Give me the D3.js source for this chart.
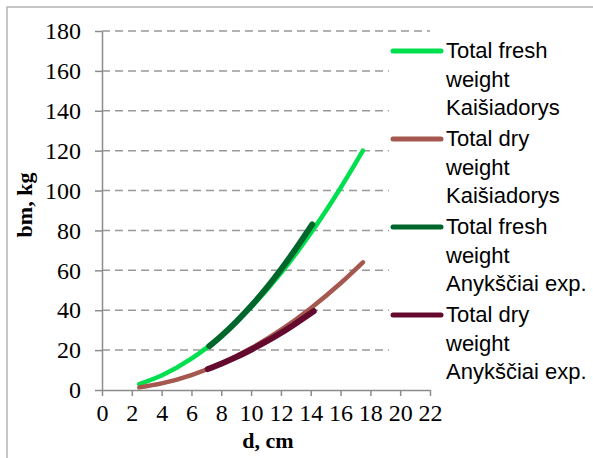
<!DOCTYPE html>
<html>
<head>
<meta charset="UTF-8">
<style>
  body{margin:0;background:#fff}
  svg{display:block}
  .tick text{font-family:'Liberation Serif','Times New Roman',serif;font-size:24px;fill:#000}
  .axis path,.axis line{stroke:#8c8c8c;stroke-width:1.5}
  .title{font-family:'Liberation Serif','Times New Roman',serif;font-size:22px;font-weight:bold}
  .legend text{font-family:'Liberation Sans',Arial,sans-serif;font-size:22px;fill:#000}
</style>
</head>
<body>
<div id="chart"></div>
<script src="https://d3js.org/d3.v7.min.js"></script>
<script>
// data
const xTicks=[0,2,4,6,8,10,12,14,16,18,20,22];
const yTicks=[0,20,40,60,80,100,120,140,160,180];

const freshKaisD=[2.5,4,6,8,10,12,14,16,17.5];
const freshKaisBm=[3,7.3,15.7,27.2,41.5,58.6,78.6,101.3,120];
const dryKaisD=[2.5,4,6,8,10,12,14,16,17.5];
const dryKaisBm=[1.3,3.3,7.5,13.4,20.9,30.1,41,53.5,64];
const freshAnykD=[7.2,8,9,10,11,12,13,14.1];
const freshAnykBm=[22,27.1,34.2,42.1,50.8,60.4,70.8,83];
const dryAnykD=[7.1,8,9,10,11,12,13,14.2];
const dryAnykBm=[10.5,13.2,16.5,20.2,24.2,28.6,33.4,39.5];

const series=[
  {name:["Total fresh","weight","Kaišiadorys"],d:freshKaisD,bm:freshKaisBm,c:"#00e04e",w:4.5},
  {name:["Total dry","weight","Kaišiadorys"],d:dryKaisD,bm:dryKaisBm,c:"#a5584f",w:4.5},
  {name:["Total fresh","weight","Anykščiai exp."],d:freshAnykD,bm:freshAnykBm,c:"#00672c",w:6},
  {name:["Total dry","weight","Anykščiai exp."],d:dryAnykD,bm:dryAnykBm,c:"#640a2e",w:6}
];

const W=593,H=458;
const svg=d3.select("#chart").append("svg").attr("width",W).attr("height",H);

// outer frame (top + left only visible)
svg.append("path").attr("d",`M7,${H} V7 H${W}`).attr("fill","none")
   .attr("stroke","#b4b4b4").attr("stroke-width",1.5);

const x=d3.scaleLinear().domain([0,22]).range([102,430]);
const y=d3.scaleLinear().domain([0,180]).range([390,31]);

/* grid */
svg.append("g").selectAll("line").data(yTicks.filter(v=>v>0)).join("line")
   .attr("x1",x(0)).attr("x2",x(22)).attr("y1",d=>y(d)).attr("y2",d=>y(d))
   .attr("stroke","#999").attr("stroke-width",1.5).attr("stroke-dasharray","8,5");

/* axes */
svg.append("g").attr("class","axis").attr("transform",`translate(${x(0)},0)`)
   .call(d3.axisLeft(y).tickValues(yTicks).tickSize(7).tickSizeOuter(0).tickPadding(14));
svg.append("g").attr("class","axis").attr("transform",`translate(0,${y(0)})`)
   .call(d3.axisBottom(x).tickValues(xTicks).tickSize(6).tickSizeOuter(0).tickPadding(8));

svg.append("text").attr("class","title")
   .attr("transform","translate(32,205) rotate(-90)").attr("text-anchor","middle")
   .text("bm, kg");
svg.append("text").attr("class","title")
   .attr("x",268).attr("y",448).attr("text-anchor","middle").text("d, cm");

/* curves */
const line=d3.line().x(p=>x(p[0])).y(p=>y(p[1])).curve(d3.curveMonotoneX);
svg.append("g").selectAll("path").data(series).join("path")
   .attr("d",s=>line(s.d.map((v,i)=>[v,s.bm[i]])))
   .attr("fill","none").attr("stroke",s=>s.c).attr("stroke-width",s=>s.w)
   .attr("stroke-linecap","round");

/* legend */
const legend=svg.append("g").attr("class","legend");
legend.append("rect").attr("x",389).attr("y",38).attr("width",W-389).attr("height",345).attr("fill","#fff");
const item=legend.selectAll("g.item").data(series).join("g").attr("class","item")
   .attr("transform",(d,i)=>`translate(0,${51+i*88})`);
item.append("line").attr("x1",393).attr("x2",441).attr("y1",0).attr("y2",0)
   .attr("stroke",d=>d.c).attr("stroke-width",5).attr("stroke-linecap","round");
item.selectAll("text").data(d=>d.name).join("text")
   .attr("x",446).attr("y",(d,i)=>7+i*28.5).text(d=>d);
</script>
</body>
</html>
